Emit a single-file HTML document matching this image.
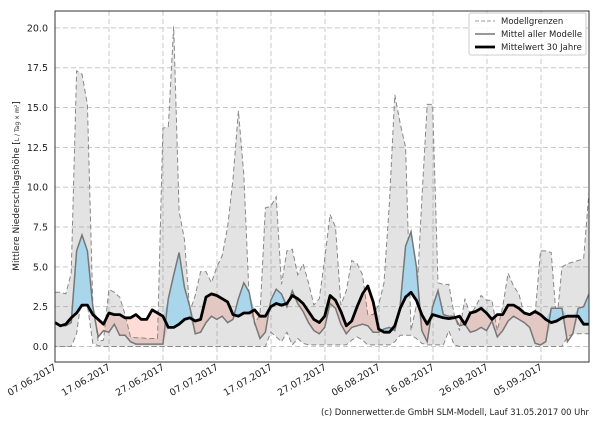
<!DOCTYPE html>
<html><head><meta charset="utf-8"><style>
body{margin:0;background:#fff;width:600px;height:420px;overflow:hidden}
svg{font-family:"DejaVu Sans","Liberation Sans",sans-serif}
</style></head><body>
<svg id="s" width="600" height="420" xmlns="http://www.w3.org/2000/svg"></svg>
<script>
const mean=[1.5,1.3,1.4,1.8,2.1,2.6,2.6,2.0,1.7,1.4,2.1,2.0,2.0,1.8,1.8,2.0,1.7,1.7,2.3,2.1,1.9,1.2,1.2,1.4,1.7,1.8,1.6,1.7,3.1,3.3,3.2,3.0,2.8,2.0,1.9,2.1,2.1,2.3,1.9,1.9,2.5,2.7,2.6,2.7,3.2,3.0,2.7,2.2,1.7,1.5,1.9,3.2,2.9,2.2,1.3,1.6,2.5,3.3,3.8,2.8,1.1,0.9,0.9,1.3,2.4,3.1,3.4,2.9,2.0,1.4,2.0,1.9,1.8,1.75,1.8,1.9,1.4,2.1,2.2,2.4,2.1,1.7,2.0,2.0,2.6,2.6,2.4,2.1,2.0,2.2,2.0,1.7,1.5,1.6,1.8,1.9,1.9,1.9,1.4,1.4];
const model=[1.5,1.3,1.3,1.5,6.0,7.0,6.0,2.5,0.6,1.0,0.9,1.4,0.7,0.7,0.3,0.15,0.15,0.15,0.15,0.15,0.15,3.0,4.5,5.9,3.7,2.5,0.8,0.9,1.5,1.9,1.7,1.9,1.5,1.7,3.0,4.0,3.4,1.5,0.5,0.9,2.9,3.6,3.3,2.5,3.5,2.7,2.2,1.5,1.0,0.8,1.2,2.7,2.4,1.4,0.8,1.2,1.3,1.4,1.3,0.9,0.9,1.1,1.2,1.0,2.6,6.3,7.2,5.0,1.0,0.3,2.5,3.5,2.0,1.9,1.9,1.3,1.4,0.9,1.0,1.2,1.0,1.6,0.6,1.0,1.6,1.9,1.7,1.5,1.2,0.2,0.1,0.3,2.4,2.4,2.4,0.3,0.8,2.4,2.5,3.3];
const up=[3.4,3.4,3.3,4.6,17.3,17.1,15.2,2.7,0.3,0.4,3.6,3.4,3.1,2.0,0.6,0.55,0.55,0.5,0.5,0.5,13.7,13.8,20.1,8.5,6.7,2.2,3.2,4.7,4.7,4.0,5.0,5.7,7.5,10.5,14.8,10.8,3.0,1.4,2.0,8.7,8.8,9.4,3.9,6.0,6.1,4.5,5.2,4.0,2.6,3.0,5.5,8.3,7.5,2.6,3.5,5.4,5.2,4.5,2.0,2.0,2.6,4.0,9.0,15.8,14.0,12.5,1.0,2.6,9.2,15.2,15.2,4.0,3.9,3.9,2.0,1.0,3.0,2.0,2.5,3.2,2.9,2.9,1.0,2.5,4.6,3.8,3.3,2.0,2.0,2.0,6.0,6.0,5.9,1.5,5.0,5.2,5.3,5.4,5.5,9.7];
const lo=[0,0,0,0,0.8,3.3,2.6,0.2,0.05,0,0,0,0,0,0,0,0,0,0,0,0,0,0,0,0,0,0,0,0,0,0,0,0,0,0,0,0,0,0,0,0.9,0.6,0.3,0.9,0.1,0.5,0.2,0.1,0.1,0.1,0.1,0.1,0.1,0.1,0.1,0.4,0.6,0.4,0.1,0.1,0.1,0.1,0.1,0.3,0.7,0.7,0.7,0.5,0.2,0.1,0.1,0.1,0.1,1.0,0.1,0,0,0,0,0,0,0,0,0,0,0,0,0,0,0,0,0,0,0,0,0.6,0.8,0.8,0.8,0.8];
const X=d=>55+d*534/99, Y=v=>346.5-v*15.93;
const pts=a=>a.map((v,i)=>X(i).toFixed(1)+","+Y(v).toFixed(1));
const poly=(a,b)=>pts(a).concat(pts(b).reverse()).join(" ");
let h='';
const yt=[0,2.5,5,7.5,10,12.5,15,17.5,20];
const xl=["07.06.2017","17.06.2017","27.06.2017","07.07.2017","17.07.2017","27.07.2017","06.08.2017","16.08.2017","26.08.2017","05.09.2017"];
yt.forEach(v=>{h+=`<line x1="55" x2="589" y1="${Y(v)}" y2="${Y(v)}" stroke="#c8c8c8" stroke-dasharray="5,3" stroke-width="1"/>`;
h+=`<text x="48" y="${Y(v)+3.5}" font-size="9.5" text-anchor="end" fill="#222">${v.toFixed(1)}</text>`});
xl.forEach((t,i)=>{const x=55+i*54;h+=`<line x1="${x}" x2="${x}" y1="11" y2="362" stroke="#c8c8c8" stroke-dasharray="5,3"/>`;
h+=`<text transform="translate(${x+2},369) rotate(-30)" font-size="9.5" text-anchor="end" fill="#222">${t}</text>`});
const mx=model.map((v,i)=>Math.max(v,mean[i])), mn=model.map((v,i)=>Math.min(v,mean[i]));
h+=`<polygon points="${poly(mean,mn)}" fill="#ffdcd5"/>`;
h+=`<polygon points="${poly(up,lo)}" fill="rgb(128,128,128)" fill-opacity="0.22" stroke="#888" stroke-dasharray="5,3" stroke-width="1"/>`;
h+=`<polygon points="${poly(mx,mean)}" fill="#a9d6ea"/>`;
h+=`<polyline points="${pts(model).join(" ")}" fill="none" stroke="#777" stroke-width="1.5"/>`;
h+=`<polyline points="${pts(mean).join(" ")}" fill="none" stroke="#000" stroke-width="2.8" stroke-linejoin="round"/>`;
h+=`<rect x="55" y="11" width="534" height="351" fill="none" stroke="#333" stroke-width="1"/>`;
h+=`<rect x="469" y="13" width="117" height="42" fill="#fff" fill-opacity="0.9" stroke="#ccc" rx="2"/>`;
h+=`<line x1="475" x2="495" y1="21" y2="21" stroke="#999" stroke-dasharray="4,2"/><text x="501" y="24" font-size="8.5" fill="#222">Modellgrenzen</text>`;
h+=`<line x1="475" x2="495" y1="34" y2="34" stroke="#777" stroke-width="1.5"/><text x="501" y="37" font-size="8.5" fill="#222">Mittel aller Modelle</text>`;
h+=`<line x1="475" x2="495" y1="47" y2="47" stroke="#000" stroke-width="2.8"/><text x="501" y="50" font-size="8.5" fill="#222">Mittelwert 30 Jahre</text>`;
h+=`<text transform="translate(19,186) rotate(-90)" font-size="9" text-anchor="middle" fill="#222">Mittlere Niederschlagshöhe [<tspan font-size="6">L / Tag × m²</tspan>]</text>`;
h+=`<text x="321" y="415" font-size="9" textLength="268" lengthAdjust="spacingAndGlyphs" fill="#222">(c) Donnerwetter.de GmbH SLM-Modell, Lauf 31.05.2017 00 Uhr</text>`;
document.getElementById('s').innerHTML=h;
</script>
</body></html>
